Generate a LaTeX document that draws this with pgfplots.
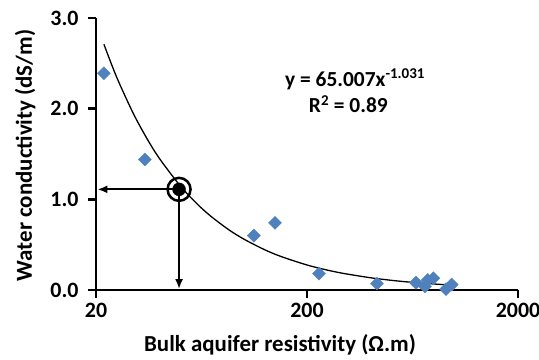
\documentclass[border=0pt]{standalone}
\usepackage{pgfplots}
\pgfplotsset{compat=1.18}
\usepackage{fontspec}
\setmainfont{Carlito}
\usetikzlibrary{arrows.meta}
\definecolor{xlblue}{HTML}{4F81BD}
\begin{document}
\begin{tikzpicture}
\begin{axis}[
  scale only axis, width=422bp, height=272bp,
  xmode=log, xmin=20, xmax=2000, ymin=0, ymax=3,
  xminorticks=false,
  xtick={20,200,2000}, xticklabels={20,200,2000},
  ytick={0,1,2,3}, yticklabels={0.0,1.0,2.0,3.0},
  axis x line=bottom, axis y line=left,
  axis line style={line width=2.5bp,-},
  tick style={line width=2.5bp,black},
  major tick length=8bp, tick align=outside,
  ticklabel style={font=\bfseries\fontsize{22}{26}\selectfont},
  xticklabel style={yshift=-2bp},
  yticklabel style={xshift=-6bp},
  label style={font=\bfseries\fontsize{23}{27}\selectfont},
  xlabel={Bulk aquifer resistivity (Ω.m)},
  ylabel={Water conductivity (dS/m)},
  xlabel style={at={(axis description cs:0.436,-0.202)},anchor=center},
  ylabel style={at={(axis description cs:-0.168,0.495)},anchor=center},
  clip=false,
]
\addplot[black, line width=1.3bp, smooth, no marks] coordinates {
(21.8,2.711) (25,2.353) (30,1.950) (35,1.664) (40,1.449) (50,1.152) (60,0.954) (70,0.814) (85,0.666) (100,0.5635) (125,0.4477) (150,0.371) (200,0.2758) (250,0.2191) (300,0.1816) (400,0.1350) (500,0.1073) (600,0.0889) (750,0.0706) (970,0.0541)
};
\addplot[only marks, mark=square*, mark size=4.6bp, mark options={rotate=45, fill=xlblue, draw=xlblue}] coordinates {
(21.8,2.39) (34.1,1.44) (112,0.60) (141,0.74) (228,0.18) (429,0.07) (657,0.08) (725,0.04) (747,0.11) (794,0.13) (912,0.01) (970,0.06)
};
\addplot[black, line width=2bp, -{Latex[length=10bp,width=8bp]}] coordinates {(49.5,1.11) (20.3,1.11)};
\addplot[black, line width=2bp, -{Latex[length=10bp,width=8bp]}] coordinates {(49.5,1.11) (49.5,0.01)};
\addplot[only marks, mark=*, mark size=6.5bp, mark options={fill=black, draw=black}] coordinates {(49.5,1.11)};
\addplot[only marks, mark=o, mark size=11.5bp, mark options={draw=black, line width=2.5bp}] coordinates {(49.5,1.11)};
\node[font=\bfseries\fontsize{21.5}{25}\selectfont] at (rel axis cs:0.614,0.775) {y = 65.007x\textsuperscript{-1.031}};
\node[font=\bfseries\fontsize{21.5}{25}\selectfont] at (rel axis cs:0.598,0.684) {R\textsuperscript{2} = 0.89};
\end{axis}
\pgfresetboundingbox
\path[use as bounding box] ([xshift=-96bp,yshift=-70bp]current axis.south west) rectangle ([xshift=443bp,yshift=290bp]current axis.south west);
\end{tikzpicture}
\end{document}
